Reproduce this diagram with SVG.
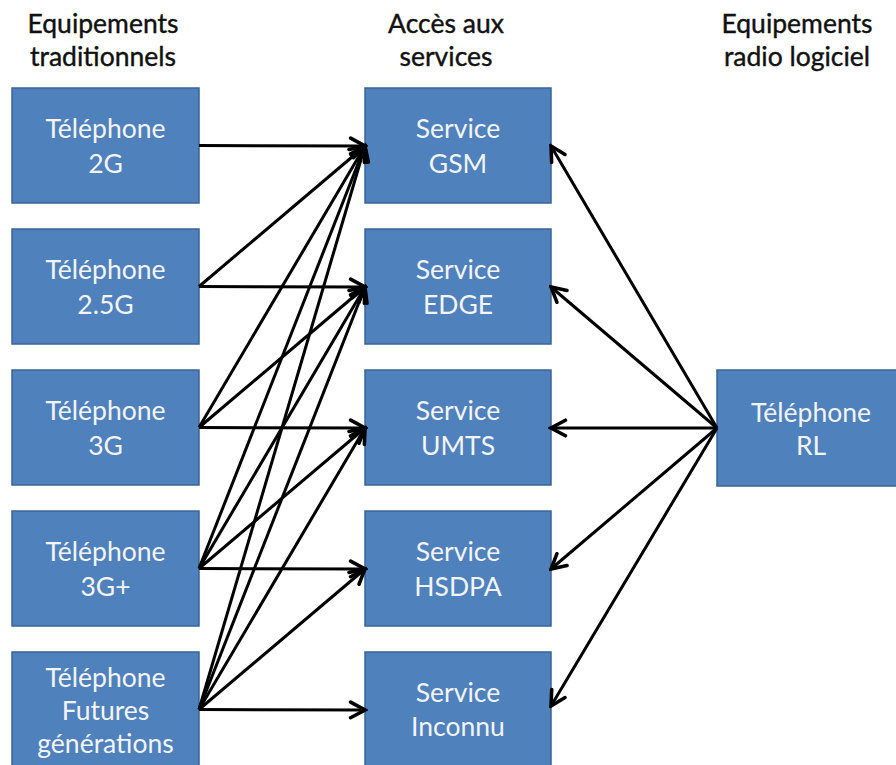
<svg xmlns="http://www.w3.org/2000/svg" width="896" height="765" viewBox="0 0 896 765">
  <style>
    .box { fill: #4F81BD; stroke: #3A6696; stroke-width: 1.5; }
    .bt { font-family: Lato, "Open Sans", sans-serif; font-size: 26.5px; fill: #F4F4F4; text-anchor: middle; }
    .hd { font-family: Lato, "Open Sans", sans-serif; font-size: 26.5px; fill: #111111; stroke: #111111; stroke-width: 0.4; text-anchor: middle; }
    .cn { stroke: #000000; stroke-width: 3; fill: none; marker-end: url(#arr); }
  </style>
  <defs>
    <marker id="arr" markerUnits="userSpaceOnUse" markerWidth="20" markerHeight="20" viewBox="-15 -9 17 18" refX="0" refY="0" orient="auto">
      <path d="M -13 -7 L 0 0 L -13 7" fill="none" stroke="#000000" stroke-width="3.2" stroke-linecap="round" stroke-linejoin="miter"/>
    </marker>
  </defs>
  <rect width="896" height="765" fill="#FFFFFF"/>

  <g id="headers">
    <text class="hd" x="103" y="33">Equipements</text>
    <text class="hd" x="103" y="66">traditionnels</text>
    <text class="hd" x="446" y="33">Accès aux</text>
    <text class="hd" x="446" y="66">services</text>
    <text class="hd" x="797" y="33">Equipements</text>
    <text class="hd" x="797" y="66">radio logiciel</text>
  </g>

  <g id="tel-2g">
    <rect class="box" x="12" y="88" width="187" height="115"/>
    <text class="bt" x="105.5" y="138">Téléphone</text>
    <text class="bt" x="105.5" y="173">2G</text>
  </g>
  <g id="tel-25g">
    <rect class="box" x="12" y="229" width="187" height="115"/>
    <text class="bt" x="105.5" y="279">Téléphone</text>
    <text class="bt" x="105.5" y="314">2.5G</text>
  </g>
  <g id="tel-3g">
    <rect class="box" x="12" y="370" width="187" height="115"/>
    <text class="bt" x="105.5" y="420">Téléphone</text>
    <text class="bt" x="105.5" y="455">3G</text>
  </g>
  <g id="tel-3gplus">
    <rect class="box" x="12" y="511" width="187" height="115"/>
    <text class="bt" x="105.5" y="561">Téléphone</text>
    <text class="bt" x="105.5" y="596">3G+</text>
  </g>
  <g id="tel-futures">
    <rect class="box" x="12" y="652" width="187" height="125"/>
    <text class="bt" x="105.5" y="687">Téléphone</text>
    <text class="bt" x="105.5" y="720">Futures</text>
    <text class="bt" x="105.5" y="753">générations</text>
  </g>

  <g id="svc-gsm">
    <rect class="box" x="365" y="88" width="186" height="115"/>
    <text class="bt" x="458" y="138">Service</text>
    <text class="bt" x="458" y="173">GSM</text>
  </g>
  <g id="svc-edge">
    <rect class="box" x="365" y="229" width="186" height="115"/>
    <text class="bt" x="458" y="279">Service</text>
    <text class="bt" x="458" y="314">EDGE</text>
  </g>
  <g id="svc-umts">
    <rect class="box" x="365" y="370" width="186" height="115"/>
    <text class="bt" x="458" y="420">Service</text>
    <text class="bt" x="458" y="455">UMTS</text>
  </g>
  <g id="svc-hsdpa">
    <rect class="box" x="365" y="511" width="186" height="115"/>
    <text class="bt" x="458" y="561">Service</text>
    <text class="bt" x="458" y="596">HSDPA</text>
  </g>
  <g id="svc-inconnu">
    <rect class="box" x="365" y="652" width="186" height="125"/>
    <text class="bt" x="458" y="702">Service</text>
    <text class="bt" x="458" y="736">Inconnu</text>
  </g>

  <g id="tel-rl">
    <rect class="box" x="717" y="370" width="190" height="116"/>
    <text class="bt" x="811" y="422">Téléphone</text>
    <text class="bt" x="811" y="455">RL</text>
  </g>

  <g id="connectors">
    <line class="cn" x1="199" y1="145.5" x2="365" y2="146"/>
    <line class="cn" x1="199" y1="286.5" x2="365" y2="146"/>
    <line class="cn" x1="199" y1="286.5" x2="365" y2="287"/>
    <line class="cn" x1="199" y1="427.5" x2="365" y2="146"/>
    <line class="cn" x1="199" y1="427.5" x2="365" y2="287"/>
    <line class="cn" x1="199" y1="427.5" x2="365" y2="428"/>
    <line class="cn" x1="199" y1="568.5" x2="365" y2="146"/>
    <line class="cn" x1="199" y1="568.5" x2="365" y2="287"/>
    <line class="cn" x1="199" y1="568.5" x2="365" y2="428"/>
    <line class="cn" x1="199" y1="568.5" x2="365" y2="569"/>
    <line class="cn" x1="199" y1="709.5" x2="365" y2="146"/>
    <line class="cn" x1="199" y1="709.5" x2="365" y2="287"/>
    <line class="cn" x1="199" y1="709.5" x2="365" y2="428"/>
    <line class="cn" x1="199" y1="709.5" x2="365" y2="569"/>
    <line class="cn" x1="199" y1="709.5" x2="365" y2="710"/>
    <line class="cn" x1="717" y1="428" x2="551" y2="146"/>
    <line class="cn" x1="717" y1="428" x2="551" y2="287"/>
    <line class="cn" x1="717" y1="428" x2="551" y2="428"/>
    <line class="cn" x1="717" y1="428" x2="551" y2="569"/>
    <line class="cn" x1="717" y1="428" x2="551" y2="706"/>
  </g>
</svg>
